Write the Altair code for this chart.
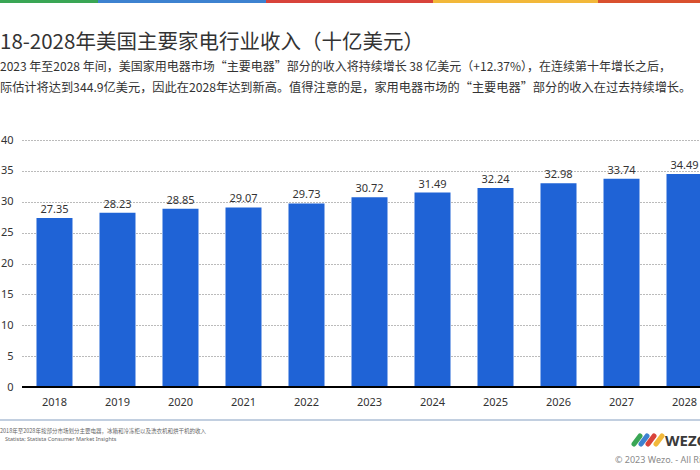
import altair as alt
import pandas as pd

years = ["2018", "2019", "2020", "2021", "2022", "2023", "2024", "2025", "2026", "2027", "2028"]
revenue = [27.35, 28.23, 28.85, 29.07, 29.73, 30.72, 31.49, 32.24, 32.98, 33.74, 34.49]
y_ticks = [0, 5, 10, 15, 20, 25, 30, 35, 40]

title_text = "18-2028年美国主要家电行业收入（十亿美元）"
sub_line1 = "2023 年至2028 年间，美国家用电器市场“主要电器”部分的收入将持续增长 38 亿美元（+12.37%），在连续第十年增长之后，"
sub_line2 = "际估计将达到344.9亿美元，因此在2028年达到新高。值得注意的是，家用电器市场的“主要电器”部分的收入在过去持续增长。"
foot1 = "2018年至2028年按部分市场划分主要电器，冰箱和冷冻柜以及洗衣机和烘干机的收入"
foot2 = "Statista; Statista Consumer Market Insights"
copyright_text = "© 2023 Wezo. - All Rights Reserved"
logo_text = "WEZO"

stripe_colors = ["#3aa655", "#3d82d0", "#d8433b", "#f2b83a", "#d9502e"]

df = pd.DataFrame({"year": years, "revenue": revenue,
                   "label": [f"{v:.2f}" for v in revenue]})

CJK = "Noto Sans CJK SC"
NUM = "Noto Sans"

x_scale = alt.Scale(range=[0, 695], paddingInner=0.4286, paddingOuter=0.23)
x_axis = alt.Axis(labelAngle=0, ticks=False, domain=False, labelPadding=9,
                  labelFont=NUM, labelFontSize=11, labelColor="#333333")
y_axis = alt.Axis(values=y_ticks, ticks=False, domain=False, labelPadding=9,
                  labelFont=NUM, labelFontSize=11, labelColor="#333333", labelOverlap=False,
                  grid=True, gridColor="#777777", gridDash=[1, 2], gridWidth=1)
y_scale = alt.Scale(domain=[0, 40], nice=False)

def X():
    return alt.X("year:O", title=None, scale=x_scale, axis=x_axis)

def Y(field="revenue:Q"):
    return alt.Y(field, title=None, scale=y_scale, axis=y_axis)

base = alt.Chart(df)
bars = base.mark_bar(color="#1f63d6").encode(x=X(), y=Y())
labels = base.mark_text(dy=-8, font=NUM, fontSize=11, color="#333333").encode(
    x=X(), y=Y(), text="label:N")
zero = alt.Chart(pd.DataFrame({"v": [0]})).mark_rule(color="#000000", strokeWidth=2).encode(
    y=Y("v:Q"))

def txt(t, xv, yv, size, color, font=CJK, weight="normal", align="left", baseline="middle"):
    return alt.Chart(pd.DataFrame({"t": [t]})).mark_text(
        font=font, fontSize=size, color=color, fontWeight=weight,
        align=align, baseline=baseline).encode(
        x=alt.value(xv), y=alt.value(yv), text="t:N")

# offsets: plot origin at (22, 140)
OX, OY = 22, 140
layers = [bars, zero, labels]

# top stripes
bounds = [0, 98, 266, 433, 598, 700]
for i, c in enumerate(stripe_colors):
    layers.append(alt.Chart(pd.DataFrame({"a": [0]})).mark_rule(color=c, strokeWidth=4).encode(
        x=alt.value(bounds[i] - OX), x2=alt.value(bounds[i + 1] - OX), y=alt.value(1 - OY)))

layers.append(txt(title_text, 0 - OX, 43 - OY, 20.5, "#333333"))
layers.append(txt(sub_line1, 0 - OX, 67 - OY, 12, "#333333"))
layers.append(txt(sub_line2, 0 - OX, 88 - OY, 12.2, "#333333"))

# bottom separator
layers.append(alt.Chart(pd.DataFrame({"a": [0]})).mark_rule(color="#aebfd6", strokeWidth=1.5).encode(
    x=alt.value(0 - OX), x2=alt.value(700 - OX), y=alt.value(420 - OY)))
layers.append(txt(foot1, 0 - OX, 431 - OY, 5.5, "#666666"))
layers.append(txt(foot2, 5 - OX, 439 - OY, 5.5, "#666666", font=NUM))
layers.append(txt(copyright_text, 615 - OX, 460 - OY, 9, "#8a8a8a", font=NUM))
layers.append(txt(logo_text, 665 - OX, 441 - OY, 15, "#3a3a3a", font=NUM, weight="bold"))

# logo swoosh approximations
logo_cols = ["#3aa655", "#3d82d0", "#d8433b", "#f2b83a"]
logo_x = [634, 641, 648, 656]
for c, lx in zip(logo_cols, logo_x):
    layers.append(alt.Chart(pd.DataFrame({"a": [0]})).mark_rule(color=c, strokeWidth=5, strokeCap="round").encode(
        x=alt.value(lx - OX), x2=alt.value(lx + 6 - OX), y=alt.value(444 - OY), y2=alt.value(436 - OY)))

chart = alt.layer(*layers).properties(
    width=678, height=247,
    autosize=alt.AutoSizeParams(type="none"),
    padding={"left": OX, "top": OY, "right": 0, "bottom": 83},
    background="white",
).configure_view(stroke=None)

chart.save("out.html", embed_options={"renderer": "svg", "actions": False})
